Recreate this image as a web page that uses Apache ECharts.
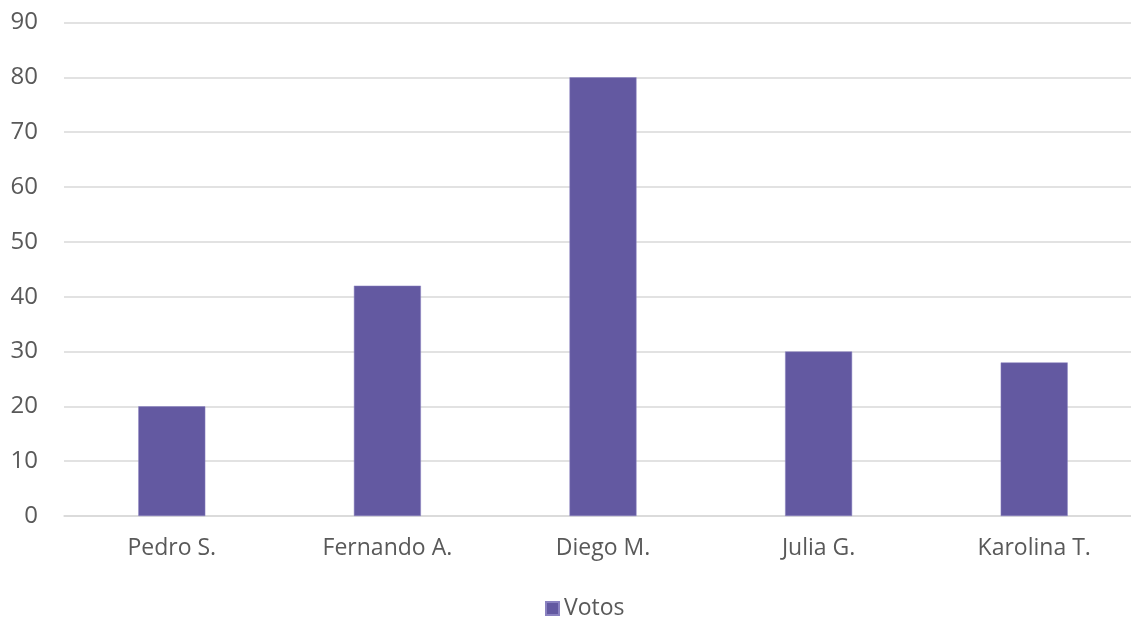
<!DOCTYPE html>
<html>
<head>
<meta charset="utf-8">
<script src="https://cdn.jsdelivr.net/npm/echarts@6/dist/echarts.min.js"></script>
<style>
  html, body { margin: 0; padding: 0; background: #ffffff; }
  #chart { width: 1131px; height: 617px; }
</style>
</head>
<body>
<div id="chart"></div>
<script>
// Votes per candidate
const candidates = ['Pedro S.', 'Fernando A.', 'Diego M.', 'Julia G.', 'Karolina T.'];
const votes = [20, 42, 80, 30, 28];
const seriesName = 'Votos';

const textColor = '#595959';
const fontFamily = '"Open Sans", Lato, sans-serif';

const chart = echarts.init(document.getElementById('chart'), null, { renderer: 'canvas' });
chart.setOption({
  animation: false,
  backgroundColor: '#ffffff',
  grid: {
    left: 64, top: 22.5, width: 1078, height: 493.5,
    containLabel: false,
    outerBoundsMode: 'none'
  },
  legend: {
    data: [seriesName],
    top: 597,
    left: 545,
    padding: 0,
    itemWidth: 13,
    itemHeight: 13,
    itemGap: 8,
    icon: 'rect',
    textStyle: { color: textColor, fontSize: 23, fontFamily: fontFamily }
  },
  xAxis: {
    type: 'category',
    data: candidates,
    axisLine: { show: true, lineStyle: { color: '#d9d9d9', width: 1.5 } },
    axisTick: { show: false },
    axisLabel: { color: textColor, fontSize: 23, fontFamily: fontFamily, margin: 21 }
  },
  yAxis: {
    type: 'value',
    min: 0,
    max: 90,
    interval: 10,
    axisLine: { show: false },
    axisTick: { show: false },
    splitLine: { lineStyle: { color: '#d9d9d9', width: 1.5 } },
    axisLabel: { color: textColor, fontSize: 24, fontFamily: fontFamily, margin: 26 }
  },
  series: [{
    name: seriesName,
    type: 'bar',
    data: votes,
    barWidth: 67,
    itemStyle: { color: '#6359A1', borderColor: '#8a82c0', borderWidth: 0.5 }
  }]
});
</script>
</body>
</html>
